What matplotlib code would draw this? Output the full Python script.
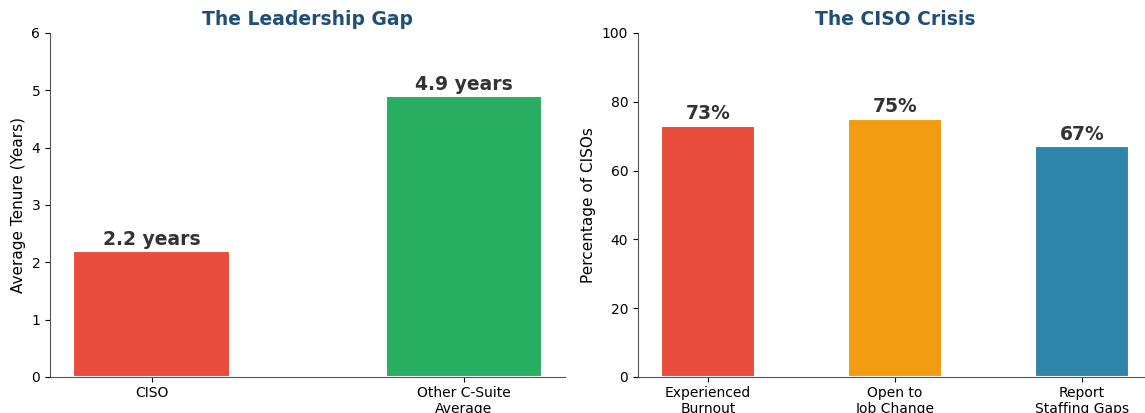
import matplotlib
matplotlib.use("Agg")
import matplotlib.pyplot as plt

# データ
tenure_labels = ["CISO", "Other C-Suite\nAverage"]
tenure_values = [2.2, 4.9]
tenure_colors = ["#e74c3c", "#27ae60"]

crisis_labels = ["Experienced\nBurnout", "Open to\nJob Change", "Report\nStaffing Gaps"]
crisis_values = [73, 75, 67]
crisis_colors = ["#e74c3c", "#f39c12", "#2e86ab"]

title_color = "#1f4e79"
label_color = "#333333"

fig = plt.figure(figsize=(11.45, 4.13), dpi=100)
ax1 = fig.add_axes([0.0437, 0.0872, 0.4501, 0.833])
ax2 = fig.add_axes([0.5572, 0.0872, 0.4489, 0.833])

# 左: 在任期間
bars = ax1.bar(range(len(tenure_values)), tenure_values, width=0.5,
               color=tenure_colors, edgecolor="white", linewidth=1.5)
for bar, v in zip(bars, tenure_values):
    ax1.text(bar.get_x() + bar.get_width() / 2, v + 0.04, f"{v} years",
             ha="center", va="bottom", fontsize=13.5, fontweight="bold", color=label_color)
ax1.set_xticks(range(len(tenure_labels)))
ax1.set_xticklabels(tenure_labels, fontsize=10)
ax1.set_ylim(0, 6)
ax1.set_ylabel("Average Tenure (Years)", fontsize=11)
ax1.set_title("The Leadership Gap", fontsize=13.5, fontweight="bold", color=title_color)

# 右: CISOの危機
bars = ax2.bar(range(len(crisis_values)), crisis_values, width=0.5,
               color=crisis_colors, edgecolor="white", linewidth=1.5)
for bar, v in zip(bars, crisis_values):
    ax2.text(bar.get_x() + bar.get_width() / 2, v + 0.8, f"{v}%",
             ha="center", va="bottom", fontsize=13.5, fontweight="bold", color=label_color)
ax2.set_xticks(range(len(crisis_labels)))
ax2.set_xticklabels(crisis_labels, fontsize=10)
ax2.set_ylim(0, 100)
ax2.set_ylabel("Percentage of CISOs", fontsize=11)
ax2.set_title("The CISO Crisis", fontsize=13.5, fontweight="bold", color=title_color)

for ax in (ax1, ax2):
    ax.spines["top"].set_visible(False)
    ax.spines["right"].set_visible(False)
    ax.spines["left"].set_color("#555555")
    ax.spines["bottom"].set_color("#555555")
    ax.tick_params(axis="x", pad=3)

fig.savefig("out.png", dpi=100)
